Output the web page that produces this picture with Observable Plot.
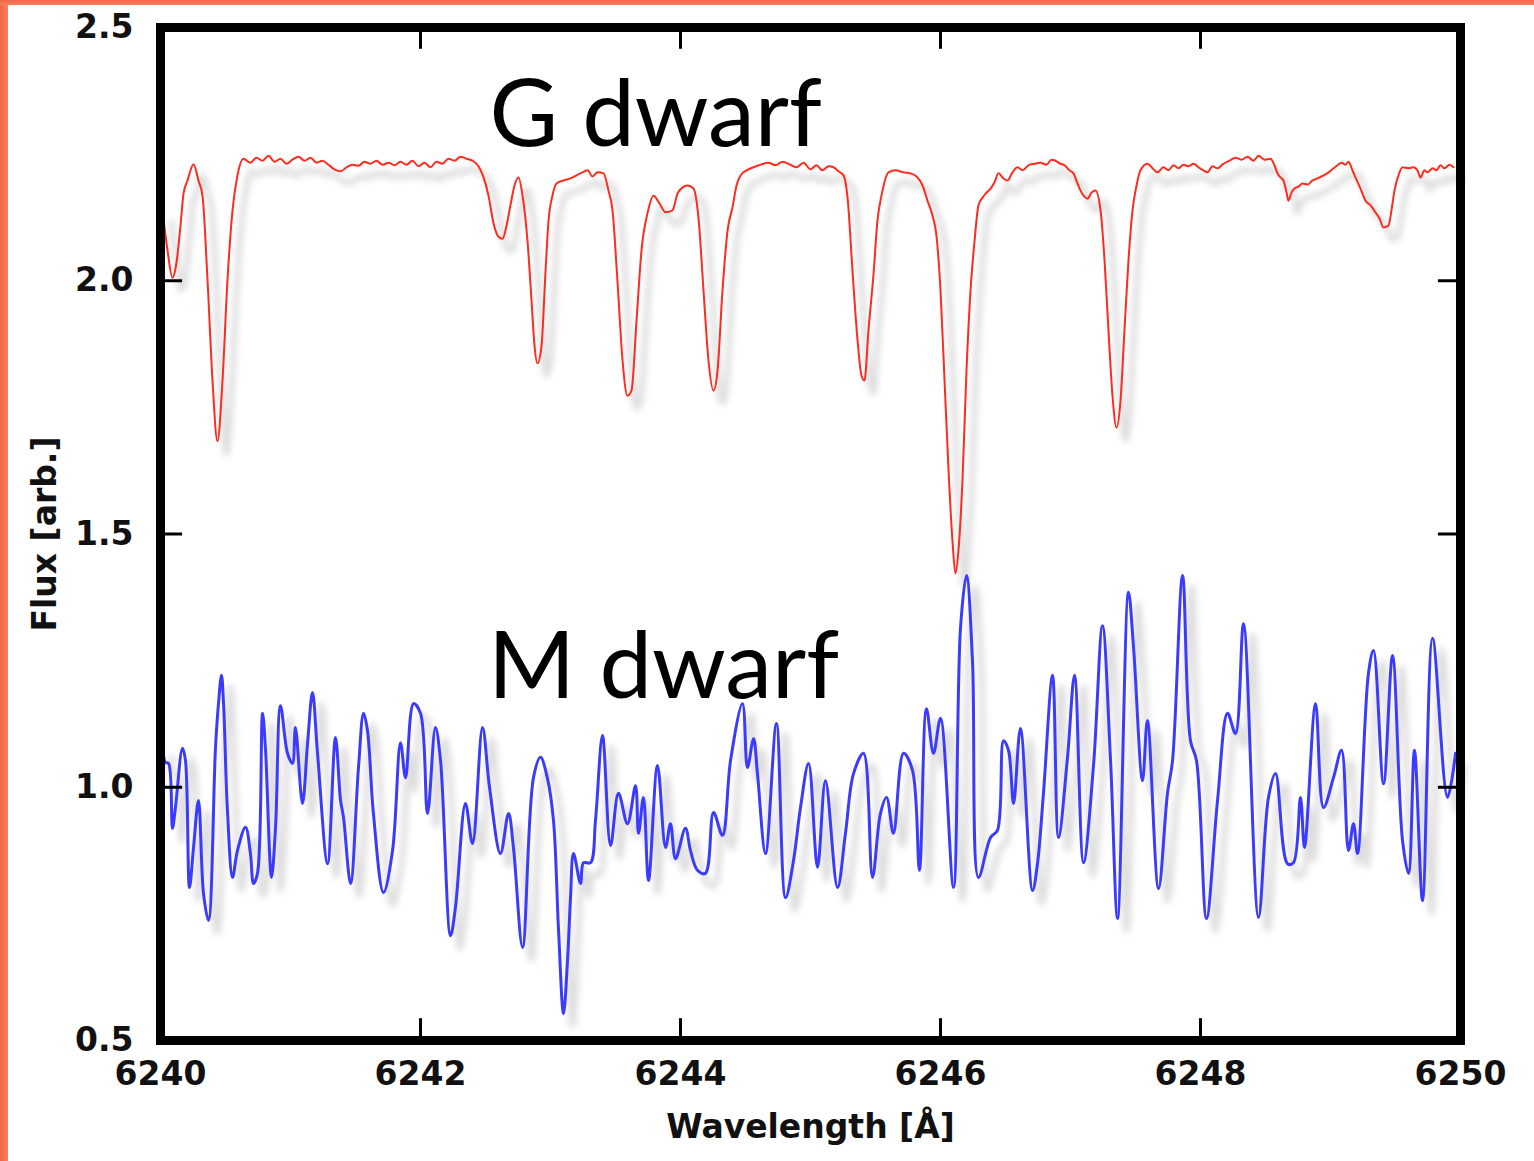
<!DOCTYPE html>
<html>
<head>
<meta charset="utf-8">
<script src="https://cdn.jsdelivr.net/npm/d3@7"></script>
<script src="https://cdn.jsdelivr.net/npm/@observablehq/plot@0.6"></script>
<style>
  html, body { margin: 0; padding: 0; background: #fff; }
  #wrap { position: relative; width: 1534px; height: 1161px; overflow: hidden; background: #fff; }
  #wrap svg { position: absolute; left: 0; top: 0; }
  .edge-left { position: absolute; left: 0; top: 0; width: 8px; height: 1161px; background: linear-gradient(90deg, #ee6646, #fb8060); }
  .edge-top { position: absolute; left: 0; top: 0; width: 1534px; height: 5px; background: linear-gradient(180deg, #ee6646, #fb8060); }
</style>
</head>
<body>
<div id="wrap"></div>
<script>
// ---- data ----
const seriesNames = ["G dwarf", "M dwarf"];
const seriesColors = ["#ff2b1c", "#3b3bff"];

const gdwarfWavelength = [
6240.015,6240.054,6240.092,6240.123,6240.154,6240.177,6240.208,6240.254,6240.292,6240.323,
6240.362,6240.400,6240.438,6240.477,6240.515,6240.554,6240.592,6240.638,6240.692,6240.738,
6240.785,6240.831,6240.877,6240.923,6240.969,6241.015,6241.062,6241.108,6241.154,6241.200,
6241.246,6241.292,6241.338,6241.385,6241.431,6241.477,6241.523,6241.569,6241.615,6241.662,
6241.708,6241.754,6241.800,6241.846,6241.892,6241.938,6241.985,6242.031,6242.077,6242.123,
6242.169,6242.215,6242.262,6242.308,6242.354,6242.400,6242.446,6242.485,6242.523,6242.562,
6242.600,6242.631,6242.662,6242.692,6242.723,6242.754,6242.785,6242.823,6242.854,6242.877,
6242.900,6242.931,6242.962,6242.985,6243.015,6243.046,6243.100,6243.154,6243.200,6243.246,
6243.285,6243.323,6243.362,6243.408,6243.446,6243.477,6243.515,6243.554,6243.592,6243.623,
6243.662,6243.700,6243.746,6243.792,6243.838,6243.885,6243.938,6243.977,6244.015,6244.054,
6244.100,6244.138,6244.177,6244.215,6244.254,6244.285,6244.323,6244.362,6244.400,6244.431,
6244.462,6244.508,6244.562,6244.615,6244.677,6244.731,6244.785,6244.846,6244.892,6244.946,
6245.000,6245.046,6245.092,6245.138,6245.177,6245.215,6245.254,6245.285,6245.323,6245.362,
6245.392,6245.415,6245.446,6245.485,6245.515,6245.546,6245.600,6245.654,6245.715,6245.769,
6245.823,6245.862,6245.900,6245.938,6245.969,6246.000,6246.031,6246.062,6246.092,6246.115,
6246.138,6246.169,6246.200,6246.231,6246.262,6246.292,6246.323,6246.354,6246.385,6246.415,
6246.446,6246.485,6246.515,6246.554,6246.592,6246.631,6246.677,6246.723,6246.769,6246.815,
6246.854,6246.885,6246.923,6246.954,6246.992,6247.023,6247.054,6247.077,6247.108,6247.131,
6247.162,6247.192,6247.231,6247.262,6247.292,6247.323,6247.354,6247.385,6247.415,6247.446,
6247.477,6247.508,6247.538,6247.592,6247.631,6247.669,6247.715,6247.754,6247.792,6247.831,
6247.869,6247.908,6247.946,6247.985,6248.023,6248.054,6248.092,6248.131,6248.177,6248.223,
6248.269,6248.315,6248.362,6248.408,6248.446,6248.492,6248.538,6248.569,6248.592,6248.615,
6248.638,6248.662,6248.677,6248.700,6248.723,6248.754,6248.785,6248.823,6248.862,6248.900,
6248.946,6248.985,6249.023,6249.054,6249.085,6249.115,6249.138,6249.169,6249.192,6249.231,
6249.269,6249.308,6249.346,6249.377,6249.408,6249.446,6249.469,6249.492,6249.523,6249.554,
6249.600,6249.638,6249.669,6249.692,6249.723,6249.746,6249.785,6249.815,6249.846,6249.877,
6249.915,6249.946
];
const gdwarfFlux = [
2.139,2.060,2.006,2.036,2.109,2.172,2.198,2.230,2.198,2.168,
2.000,1.803,1.683,1.803,2.000,2.139,2.208,2.241,2.233,2.243,
2.237,2.247,2.235,2.241,2.231,2.239,2.245,2.237,2.243,2.233,
2.237,2.229,2.220,2.216,2.224,2.229,2.227,2.235,2.231,2.237,
2.229,2.233,2.228,2.235,2.229,2.237,2.226,2.233,2.224,2.235,
2.231,2.241,2.237,2.245,2.241,2.237,2.226,2.204,2.168,2.113,
2.087,2.083,2.109,2.149,2.188,2.204,2.168,2.079,1.961,1.872,
1.837,1.872,2.020,2.119,2.168,2.192,2.198,2.202,2.208,2.214,
2.218,2.206,2.214,2.212,2.178,2.139,2.000,1.843,1.773,1.783,
1.922,2.060,2.133,2.168,2.153,2.135,2.139,2.172,2.184,2.188,
2.182,2.125,1.981,1.843,1.783,1.823,1.981,2.099,2.145,2.188,
2.208,2.218,2.224,2.229,2.233,2.228,2.235,2.229,2.224,2.233,
2.220,2.228,2.218,2.226,2.224,2.216,2.208,2.164,2.020,1.882,
1.813,1.803,1.902,2.014,2.119,2.168,2.214,2.218,2.214,2.212,
2.204,2.188,2.158,2.129,2.089,1.981,1.803,1.625,1.487,1.422,
1.467,1.606,1.823,1.981,2.079,2.149,2.164,2.174,2.182,2.194,
2.212,2.202,2.198,2.214,2.224,2.218,2.228,2.231,2.233,2.229,
2.239,2.237,2.231,2.228,2.218,2.212,2.192,2.178,2.166,2.162,
2.174,2.178,2.139,2.040,1.902,1.773,1.710,1.764,1.902,2.040,
2.139,2.188,2.218,2.231,2.222,2.214,2.224,2.218,2.228,2.222,
2.229,2.226,2.231,2.224,2.218,2.214,2.226,2.222,2.231,2.237,
2.243,2.239,2.245,2.237,2.247,2.239,2.241,2.228,2.212,2.204,
2.198,2.174,2.158,2.174,2.182,2.186,2.192,2.190,2.198,2.202,
2.208,2.214,2.222,2.228,2.233,2.229,2.235,2.218,2.204,2.182,
2.158,2.149,2.135,2.123,2.105,2.109,2.139,2.178,2.208,2.224,
2.222,2.224,2.218,2.204,2.218,2.214,2.222,2.218,2.228,2.222,
2.229,2.224
];

const mdwarfWavelength = [
6240.015,6240.038,6240.062,6240.092,6240.115,6240.169,6240.192,6240.223,6240.254,6240.292,
6240.331,6240.369,6240.423,6240.446,6240.469,6240.485,6240.515,6240.554,6240.592,6240.654,
6240.692,6240.715,6240.746,6240.785,6240.808,6240.854,6240.885,6240.923,6240.977,6241.015,
6241.038,6241.092,6241.131,6241.169,6241.208,6241.285,6241.346,6241.385,6241.408,6241.462,
6241.523,6241.562,6241.592,6241.638,6241.715,6241.785,6241.846,6241.885,6241.946,6242.000,
6242.054,6242.115,6242.154,6242.231,6242.269,6242.346,6242.400,6242.477,6242.531,6242.615,
6242.677,6242.715,6242.785,6242.869,6242.923,6242.977,6243.023,6243.062,6243.100,6243.131,
6243.154,6243.177,6243.231,6243.254,6243.308,6243.346,6243.400,6243.462,6243.523,6243.592,
6243.654,6243.677,6243.715,6243.754,6243.823,6243.885,6243.923,6243.962,6244.038,6244.077,
6244.131,6244.192,6244.254,6244.323,6244.385,6244.477,6244.515,6244.562,6244.592,6244.654,
6244.738,6244.808,6244.869,6244.923,6244.985,6245.054,6245.115,6245.208,6245.269,6245.331,
6245.408,6245.477,6245.538,6245.585,6245.638,6245.715,6245.785,6245.838,6245.892,6245.946,
6246.000,6246.100,6246.154,6246.200,6246.246,6246.292,6246.385,6246.438,6246.485,6246.523,
6246.562,6246.615,6246.708,6246.746,6246.792,6246.862,6246.908,6246.977,6247.031,6247.100,
6247.177,6247.246,6247.308,6247.362,6247.446,6247.485,6247.554,6247.592,6247.677,6247.746,
6247.785,6247.862,6247.923,6247.969,6248.046,6248.131,6248.208,6248.269,6248.331,6248.446,
6248.523,6248.577,6248.669,6248.715,6248.769,6248.800,6248.885,6248.946,6249.023,6249.085,
6249.138,6249.177,6249.208,6249.292,6249.331,6249.408,6249.477,6249.554,6249.600,6249.646,
6249.708,6249.785,6249.900,6249.962
];
const mdwarfFlux = [
1.082,1.049,1.047,0.919,0.960,1.077,1.053,0.802,0.881,0.974,
0.790,0.737,1.078,1.165,1.221,1.165,0.954,0.822,0.875,0.921,
0.869,0.810,0.830,1.146,1.073,0.822,0.921,1.161,1.067,1.047,
1.118,0.968,1.086,1.187,1.067,0.849,1.098,0.974,0.940,0.810,
1.039,1.146,1.112,0.948,0.792,0.875,1.088,1.019,1.165,1.146,
0.948,1.118,1.053,0.707,0.763,0.968,0.889,1.118,1.000,0.869,
0.948,0.881,0.684,1.019,1.059,1.017,0.934,0.717,0.553,0.658,
0.782,0.869,0.810,0.851,0.851,0.934,1.102,0.885,0.988,0.928,
1.003,0.909,0.980,0.816,1.043,0.881,0.928,0.859,0.919,0.875,
0.836,0.830,0.950,0.905,1.053,1.165,1.039,1.096,1.027,0.869,
1.126,0.782,0.855,0.960,1.047,0.842,1.013,0.802,0.909,1.027,
1.067,0.822,0.948,0.980,0.909,1.067,1.033,0.836,1.155,1.067,
1.136,0.802,1.315,1.418,1.250,0.822,0.901,0.915,1.092,1.073,
0.968,1.116,0.796,0.849,0.988,1.221,0.901,1.059,1.221,0.851,
1.043,1.319,1.053,0.741,1.385,1.276,1.013,1.132,0.800,0.988,
1.053,1.418,1.092,1.053,0.741,0.974,1.146,1.106,1.323,0.743,
0.980,1.027,0.849,0.851,0.980,0.881,1.165,0.960,1.019,1.073,
0.875,0.928,0.869,1.225,1.270,1.007,1.260,0.895,0.830,1.073,
0.776,1.294,0.980,1.067
];

const labelWavelength = [6242.53, 6242.52];
const labelFlux = [2.267, 1.177];

const xTicks = [6240, 6242, 6244, 6246, 6248, 6250];
const yTicks = [0.5, 1.0, 1.5, 2.0, 2.5];
const xInnerTicks = [6242, 6244, 6246, 6248];
const yInnerTicks = [1.0, 1.5, 2.0];
const xLabel = "Wavelength [Å]";
const yLabel = "Flux [arb.]";

// ---- build tables ----
const gdwarf = gdwarfWavelength.map((w, i) => ({wavelength: w, flux: gdwarfFlux[i]}));
const mdwarf = mdwarfWavelength.map((w, i) => ({wavelength: w, flux: mdwarfFlux[i]}));
const labels = seriesNames.map((n, i) => ({name: n, wavelength: labelWavelength[i], flux: labelFlux[i]}));

const xMin = 6240, xMax = 6250, yMin = 0.5, yMax = 2.5;
const tickLenX = 0.17;   // inward tick length in wavelength units
const tickLenY = 0.043;  // inward tick length in flux units

const chart = Plot.plot({
  width: 1534,
  height: 1161,
  marginLeft: 160,
  marginRight: 74,
  marginTop: 27,
  marginBottom: 121,
  style: {fontFamily: "DejaVu Sans", fontWeight: "bold", fontSize: "33px", color: "#111", background: "transparent"},
  x: {domain: [xMin, xMax]},
  y: {domain: [yMin, yMax]},
  marks: [
    // shadows
    Plot.line(gdwarf, {x: "wavelength", y: "flux", stroke: "#000", strokeOpacity: 0.13, strokeWidth: 6, dx: 9, dy: 12, curve: "monotone-x"}),
    Plot.line(mdwarf, {x: "wavelength", y: "flux", stroke: "#000", strokeOpacity: 0.13, strokeWidth: 6, dx: 9, dy: 12, curve: "catmull-rom"}),
    // spectra
    Plot.line(gdwarf, {x: "wavelength", y: "flux", stroke: seriesColors[0], strokeWidth: 2, curve: "monotone-x"}),
    Plot.line(mdwarf, {x: "wavelength", y: "flux", stroke: seriesColors[1], strokeWidth: 3, curve: "catmull-rom"}),
    // inward ticks
    Plot.ruleX(xInnerTicks, {x: d => d, y1: yMin, y2: yMin + tickLenY, stroke: "#000", strokeWidth: 3}),
    Plot.ruleX(xInnerTicks, {x: d => d, y1: yMax - tickLenY, y2: yMax, stroke: "#000", strokeWidth: 3}),
    Plot.ruleY(yInnerTicks, {y: d => d, x1: xMin, x2: xMin + tickLenX, stroke: "#000", strokeWidth: 3}),
    Plot.ruleY(yInnerTicks, {y: d => d, x1: xMax - tickLenX, x2: xMax, stroke: "#000", strokeWidth: 3}),
    // axes
    Plot.axisX({ticks: xTicks, tickSize: 0, tickPadding: 21, tickFormat: d => String(d), label: null}),
    Plot.axisY({ticks: yTicks, tickSize: 0, tickPadding: 27, tickFormat: d3.format(".1f"), label: null}),
    Plot.text([xLabel], {text: d => d, frameAnchor: "bottom", lineAnchor: "middle", textAnchor: "middle", dy: 87, fontSize: 33, fontWeight: "bold", fill: "#111"}),
    Plot.text([yLabel], {text: d => d, frameAnchor: "left", textAnchor: "middle", lineAnchor: "middle", dx: -115, rotate: -90, fontSize: 33, fontWeight: "bold", fill: "#111"}),
    // series labels
    Plot.text(labels, {x: "wavelength", y: "flux", text: "name", textAnchor: "start", lineAnchor: "bottom",
      fontFamily: "Lato", fontWeight: "normal", fontSize: 94, fill: "#000"}),
    // frame
    Plot.frame({stroke: "#000", strokeWidth: 9})
  ]
});

// blur the shadow lines
const svg = d3.select(chart);
const defs = svg.insert("defs", ":first-child");
defs.append("filter").attr("id", "shadowBlur").attr("x", "-5%").attr("y", "-5%").attr("width", "110%").attr("height", "110%")
  .append("feGaussianBlur").attr("stdDeviation", 3);
svg.selectAll('g[aria-label="line"]').filter((d, i) => i < 2).attr("filter", "url(#shadowBlur)");

const wrap = document.getElementById("wrap");
wrap.appendChild(chart);
const l = document.createElement("div"); l.className = "edge-left"; wrap.appendChild(l);
const t = document.createElement("div"); t.className = "edge-top"; wrap.appendChild(t);
</script>
</body>
</html>
